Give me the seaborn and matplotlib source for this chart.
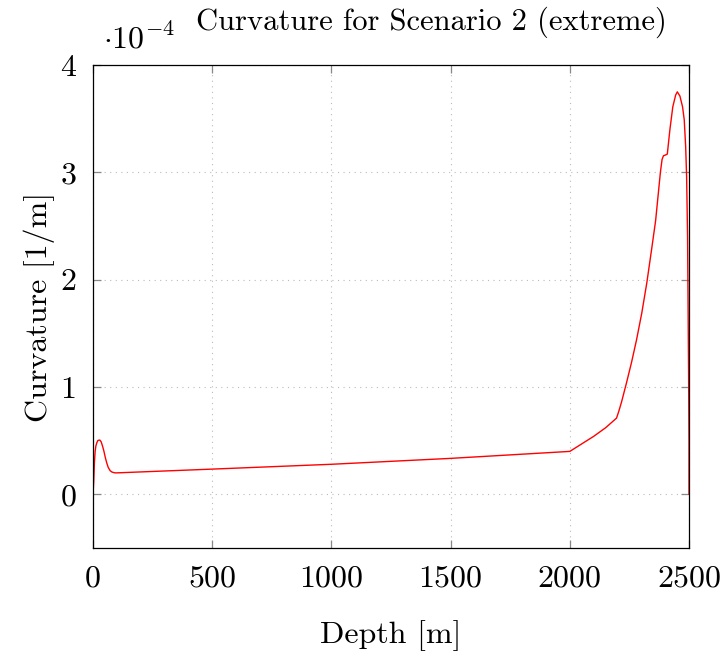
import matplotlib
matplotlib.use("Agg")
import matplotlib.pyplot as plt
import seaborn as sns
import numpy as np
import pandas as pd
from matplotlib.ticker import FuncFormatter

# Curvature profile along the well (depth in m, curvature in units of 1e-4 1/m)
depth = [0, 3, 6, 9, 12, 16, 20, 25, 29, 34, 40, 46, 52, 58, 64, 72, 80, 92, 100,
         500, 1000, 1500, 2000, 2050, 2100, 2150, 2196,
         2205, 2217, 2238, 2259, 2280, 2302, 2323, 2343, 2360, 2372, 2380, 2387,
         2393, 2400, 2409,
         2420, 2432, 2444, 2451, 2462, 2473, 2480, 2486, 2490,
         2494, 2497, 2499, 2500, 2500]
curvature_e4 = [0.0, 0.12, 0.30, 0.40, 0.45, 0.48, 0.50, 0.505, 0.505, 0.49, 0.45, 0.40,
                0.34, 0.29, 0.25, 0.22, 0.207, 0.20, 0.200,
                0.235, 0.28, 0.335, 0.40, 0.47, 0.54, 0.62, 0.71,
                0.77, 0.86, 1.04, 1.23, 1.44, 1.69, 1.97, 2.28, 2.55, 2.82, 3.00, 3.12,
                3.155, 3.16, 3.17,
                3.40, 3.61, 3.72, 3.75, 3.71, 3.61, 3.49, 3.24, 2.96,
                2.40, 1.50, 0.90, 0.50, 0.0]

x_ticks = [0, 500, 1000, 1500, 2000, 2500]
y_ticks_e4 = [0, 1, 2, 3, 4]

df = pd.DataFrame({"Depth": depth, "Curvature": np.array(curvature_e4) * 1e-4})

sns.set_theme(style="white")
plt.rcParams.update({
    "font.family": "serif",
    "font.serif": ["cmr10"],
    "mathtext.fontset": "cm",
    "axes.formatter.use_mathtext": True,
    "axes.unicode_minus": True,
    "text.color": "black",
    "axes.labelcolor": "black",
    "xtick.color": "black",
    "ytick.color": "black",
})

W, H = 723, 656
fig = plt.figure(figsize=(W / 100, H / 100), dpi=100)
ax = fig.add_axes([93 / W, 1 - 548 / H, (689 - 93) / W, (548 - 65) / H])

sns.lineplot(data=df, x="Depth", y="Curvature", color="red", linewidth=1.0,
             sort=False, estimator=None, ax=ax)

ax.set_xlim(0, 2500)
ax.set_ylim(-0.5e-4, 4e-4)
ax.set_xticks(x_ticks)
ax.set_yticks([v * 1e-4 for v in y_ticks_e4])
ax.yaxis.set_major_formatter(FuncFormatter(lambda v, p: f"{v / 1e-4:.0f}"))
ax.xaxis.set_major_formatter(FuncFormatter(lambda v, p: f"{v:.0f}"))

ax.grid(True, linestyle=(0, (1, 4)), color="#bbbbbb", linewidth=0.8)
ax.tick_params(direction="in", length=6, width=0.9, color="#888888",
               labelcolor="black",
               top=True, right=True, bottom=True, left=True,
               labelsize=23, pad=12)
for s in ax.spines.values():
    s.set_color("black")
    s.set_linewidth(0.9)

ax.set_xlabel("Depth [m]", fontsize=23, labelpad=20)
ax.set_ylabel("Curvature [1/m]", fontsize=23, labelpad=4)
fig.text(431 / W, 1 - 22 / H, "Curvature for Scenario 2 (extreme)",
         fontsize=22, ha="center", va="center")
fig.text(103 / W, 1 - 48 / H, r"$\cdot 10^{-4}$",
         fontsize=23, ha="left", va="baseline")

fig.savefig("out.png", dpi=100)
